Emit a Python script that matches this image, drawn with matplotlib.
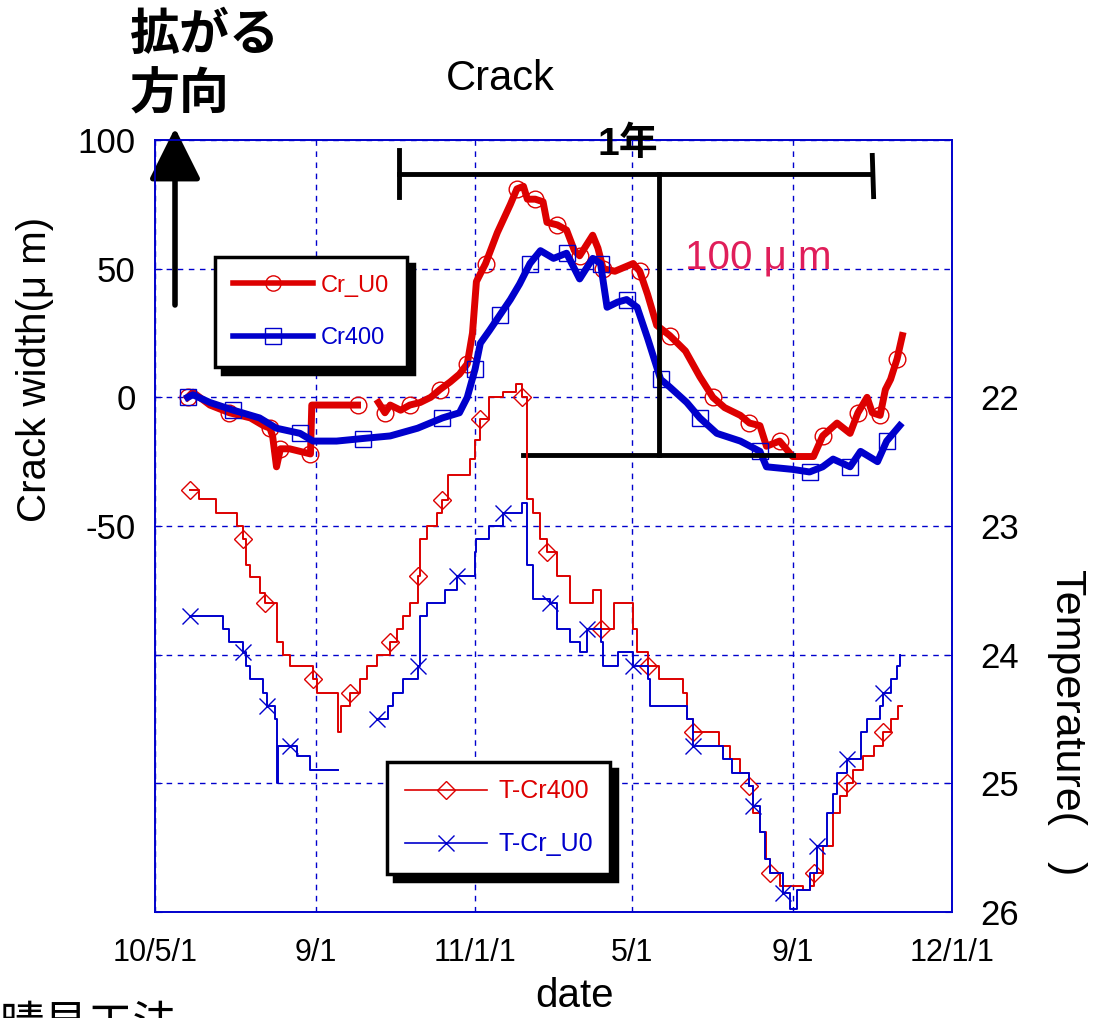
import numpy as np
import matplotlib.pyplot as plt
from matplotlib.lines import Line2D

plt.rcParams['font.family'] = ['Liberation Sans', 'Noto Sans CJK JP', 'DejaVu Sans']

RED = '#DD0000'
BLUE = '#0000CC'
START = np.datetime64('2010-05-01')

# crack width (um) -- days counted from 2010-05-01
cr_u0_days = [25, 29, 42, 57, 73, 83, 88, 90, 93, 96, 103, 111, 119, 120, 134, 155,
              163,
              171, 176, 180, 188, 195, 203, 211, 218, 226, 233, 239, 243, 246, 253, 262,
              272, 277, 282, 285, 291, 297, 300, 308, 315, 321, 325, 335, 339, 343, 352,
              366, 371, 377, 384, 394, 406, 417, 427, 436, 448, 455, 463, 468, 478, 488,
              504, 511, 522, 532, 538, 545, 549, 555, 559, 563, 568, 572]
cr_u0_vals = [0, 2, -3, -6, -8, -11, -12, -15, -27, -20, -20, -21, -22, -3, -3, -3,
              np.nan,
              -2, -6, -3, -5, -3, -2, 0, 3, 6, 9, 13, 25, 45, 52, 64,
              75, 81, 82, 77, 77, 76, 68, 67, 65, 57, 55, 63, 58, 50, 49,
              52, 49, 40, 28, 24, 18, 8, 0, -4, -7, -10, -11, -19, -17, -23,
              -23, -15, -10, -14, -6, 0, -6, -7, 3, 7, 15, 24]

cr400_days = [25, 29, 42, 60, 80, 93, 111, 121, 139, 159, 180, 201, 220, 233, 239,
              245, 249, 256, 264, 272, 279, 287, 295, 305, 315, 325, 335, 341, 346,
              354, 361, 369, 377, 387, 394, 407, 417, 430, 448, 463, 468, 488, 501,
              511, 519, 532, 540, 553, 560, 570]
cr400_vals = [0, 1, -2, -5, -8, -12, -14, -17, -17, -16, -15, -12, -8, -6, 0,
              11, 21, 26, 32, 38, 44, 52, 57, 54, 56, 46, 54, 52, 35,
              37, 38, 35, 23, 7, 4, -2, -8, -14, -17, -21, -27, -28, -29,
              -27, -24, -27, -21, -25, -17, -11]

# temperature (deg C)
t_cr400_days = [27, 34, 47, 63, 67, 70, 73, 80, 84, 93, 98, 103, 121, 124, 140, 142,
                149, 157, 162, 170, 180, 185, 190, 195, 201, 203, 208, 216, 220, 224,
                241, 245, 249, 256, 266, 276, 281, 285, 289, 295, 300, 308, 318, 335,
                341, 351, 366, 369, 377, 386, 404, 407, 412, 432, 440, 448, 455, 458,
                463, 468, 471, 478, 496, 501, 504, 511, 519, 524, 530, 534, 542, 550,
                557, 563, 569, 572]
t_cr400_vals = [22.72, 22.79, 22.9, 23.0, 23.1, 23.3, 23.4, 23.52, 23.6, 23.9, 24.0, 24.09,
                24.19, 24.3, 24.6, 24.4, 24.3, 24.19, 24.09, 24.0, 23.9, 23.8, 23.7, 23.6,
                23.39, 23.1, 23.0, 22.9, 22.8, 22.6, 22.48, 22.33, 22.17, 22.0, 21.96,
                21.9, 22.0, 22.79, 22.9, 23.1, 23.2, 23.39, 23.6, 23.5, 23.8, 23.6, 23.8,
                23.98, 24.09, 24.19, 24.3, 24.5, 24.6, 24.71, 24.81, 24.92, 25.02, 25.23,
                25.38, 25.59, 25.7, 25.8, 25.83, 25.8, 25.7, 25.49, 25.23, 25.1, 25.0,
                24.9, 24.79, 24.71, 24.6, 24.5, 24.4, 24.4]

t_cru0_days = [27, 44, 52, 57, 67, 70, 73, 83, 86, 92, 93, 94, 103, 109, 119,
               140,
               170, 178, 182, 190, 201, 203, 208, 222, 231, 245, 246, 256, 266, 281,
               285, 289, 302, 308, 318, 325, 331, 341, 343, 354, 366, 377, 379, 407,
               412, 435, 442, 455, 458, 463, 467, 471, 481, 486, 491, 501, 507, 514,
               519, 522, 530, 540, 545, 555, 557, 563, 568, 570]
t_cru0_vals = [23.7, 23.7, 23.8, 23.9, 23.98, 24.09, 24.19, 24.3, 24.4, 24.5, 25.0, 24.71,
               24.71, 24.79, 24.9,
               np.nan,
               24.5, 24.4, 24.3, 24.19, 24.09, 23.7, 23.6, 23.5, 23.39, 23.2, 23.1, 23.0,
               22.9, 22.82, 23.3, 23.57, 23.6, 23.8, 23.9, 23.98, 23.8, 23.9, 24.09,
               23.98, 24.09, 24.19, 24.4, 24.5, 24.71, 24.81, 24.92, 25.02, 25.18, 25.38,
               25.59, 25.7, 25.85, 25.98, 25.83, 25.7, 25.49, 25.23, 25.08, 24.92, 24.81,
               24.6, 24.5, 24.4, 24.3, 24.19, 24.09, 24.0]

tick_dates = ['2010-05-01', '2010-09-01', '2011-01-01', '2011-05-01', '2011-09-01', '2012-01-01']
tick_labels = ['10/5/1', '9/1', '11/1/1', '5/1', '9/1', '12/1/1']


def to_dates(days):
    return START + np.array(days).astype('timedelta64[D]')


fig = plt.figure(figsize=(10.99, 10.18), dpi=100)
ax = fig.add_axes([155 / 1099, 1 - 912 / 1018, 797 / 1099, 772 / 1018])
ax2 = ax.twinx()

# crack width lines
ax.plot(to_dates(cr_u0_days), cr_u0_vals, color=RED, lw=5, marker='o', ms=12,
        mfc='none', mew=1, markevery=3)
ax.plot(to_dates(cr400_days), cr400_vals, color=BLUE, lw=5, marker='s', ms=12,
        mfc='none', mew=1, markevery=3)

# temperature lines
ax2.plot(to_dates(t_cr400_days), t_cr400_vals, color=RED, lw=1.4, drawstyle='steps-post',
         marker='D', ms=9, mfc='none', mew=1, markevery=4)
ax2.plot(to_dates(t_cru0_days), t_cru0_vals, color=BLUE, lw=1.4, drawstyle='steps-post',
         marker='x', ms=12, mew=1, markevery=4)

xt = np.array(tick_dates, dtype='datetime64[D]')
ax.set_xlim(xt[0], xt[-1])
ax.set_xticks(xt)
ax.set_xticklabels(tick_labels, fontsize=22)
ax.tick_params(axis='x', length=0, pad=19)

ax.set_ylim(-200, 100)
ax.set_yticks([-200, -150, -100, -50, 0, 50, 100])
ax.set_yticklabels(['', '', '', '-50', '0', '50', '100'], fontsize=25)
ax.tick_params(axis='y', direction='in', color=BLUE, length=5, pad=14)
ax.grid(True, color=BLUE, ls=(0, (4, 4)), lw=1)

ax2.set_ylim(26, 20)
ax2.set_yticks([22, 23, 24, 25, 26])
ax2.tick_params(axis='y', direction='in', color=BLUE, length=5, pad=20, labelsize=25)

for a in (ax, ax2):
    for s in a.spines.values():
        s.set_color(BLUE)
        s.set_linewidth(1.2)

# 1 year / 100 um markers
y_top = 86.7
ax.plot(to_dates([187, 549]), [y_top, y_top], color='black', lw=3.5, clip_on=False)
ax.plot(to_dates([187, 187]), [96, 78], color='black', lw=3.5, clip_on=False)
ax.plot(to_dates([549, 550]), [94, 78], color='black', lw=3.5, clip_on=False)
ax.plot(to_dates([386, 386]), [y_top, -22.5], color='black', lw=3.5)
ax.plot(to_dates([282, 488]), [-22.5, -22.5], color='black', lw=3.5)

# legends
shadow = {'ox': 5, 'oy': -5, 'color': 'black', 'alpha': 1}
h1 = [Line2D([], [], color=RED, lw=4, marker='o', ms=11, mfc='none', mew=1),
      Line2D([], [], color=BLUE, lw=4, marker='s', ms=11, mfc='none', mew=1)]
leg1 = ax2.legend(h1, ['Cr_U0', 'Cr400'], loc='upper left',
                  bbox_to_anchor=(215 / 1099, 1 - 257 / 1018), bbox_transform=fig.transFigure,
                  borderaxespad=0, fontsize=17, labelcolor='linecolor', handlelength=3.4,
                  handletextpad=0.35, labelspacing=1.3, borderpad=0.75, fancybox=False,
                  edgecolor='black', framealpha=1, shadow=shadow)
leg1.get_frame().set_linewidth(2.5)
ax2.add_artist(leg1)

h2 = [Line2D([], [], color=RED, lw=1.2, marker='D', ms=9, mfc='none', mew=1),
      Line2D([], [], color=BLUE, lw=1.2, marker='x', ms=12, mew=1)]
leg2 = ax2.legend(h2, ['T-Cr400', 'T-Cr_U0'], loc='upper left',
                  bbox_to_anchor=(387 / 1099, 1 - 762 / 1018), bbox_transform=fig.transFigure,
                  borderaxespad=0, fontsize=18, labelcolor='linecolor', handlelength=3.3,
                  handletextpad=0.45, labelspacing=1.15, borderpad=0.7, fancybox=False,
                  edgecolor='black', framealpha=1, shadow=shadow)
leg2.get_frame().set_linewidth(2.5)

# texts
fig.text(500 / 1099, 1 - 79 / 1018, 'Crack', fontsize=30, ha='center', va='center')
fig.text(628 / 1099, 1 - 145 / 1018, '1年', fontsize=28, ha='center', va='center',
         fontweight='bold')
fig.text(685 / 1099, 1 - 258 / 1018, '100 μ m', fontsize=29, ha='left', va='center',
         color='#E01E5A')
fig.text(35 / 1099, 1 - 369 / 1018, 'Crack width(μ m)', fontsize=29, rotation=90,
         ha='center', va='center')
fig.text(1067 / 1099, 1 - 722 / 1018, 'Temperature(   )', fontsize=31, rotation=-90,
         ha='center', va='center')
fig.text(575 / 1099, 1 - 996 / 1018, 'date', fontsize=29, ha='center', va='center')
fig.text(130 / 1099, 1 - 13 / 1018, '拡がる\n方向', fontsize=36, ha='left', va='top',
         fontweight='bold', linespacing=1.3)
fig.text(0, 1 - 1006 / 1018, '晴見工法', fontsize=32, ha='left', va='top')

# growth direction arrow
ax.annotate('', xy=(175 / 1099, 1 - 128 / 1018), xytext=(175 / 1099, 1 - 305 / 1018),
            xycoords='figure fraction', textcoords='figure fraction',
            arrowprops=dict(arrowstyle='-|>,head_length=1.6,head_width=0.8',
                            lw=4, color='black', mutation_scale=20,
                            shrinkA=0, shrinkB=0))

plt.savefig('out.png', dpi=100)
